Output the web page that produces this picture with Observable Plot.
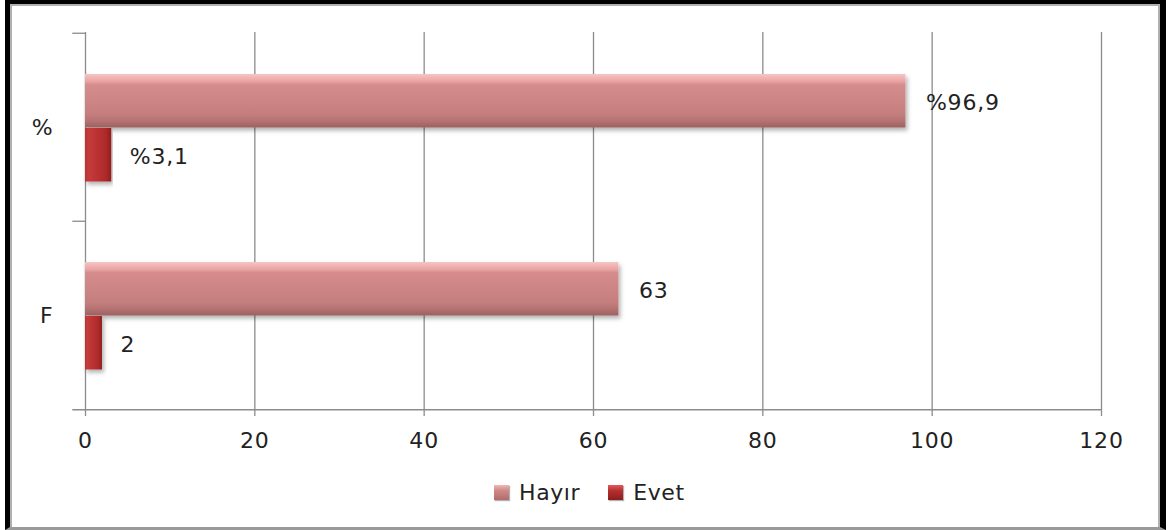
<!DOCTYPE html>
<html>
<head>
<meta charset="utf-8">
<script src="https://cdn.jsdelivr.net/npm/d3@7"></script>
<script src="https://cdn.jsdelivr.net/npm/@observablehq/plot@0.6"></script>
<style>
  html, body { margin: 0; padding: 0; background: #fff; }
  body { width: 1170px; height: 530px; position: relative; overflow: hidden; font-family: "DejaVu Sans", sans-serif; }
  #frame { position: absolute; left: 5px; top: 0; width: 1161px; height: 530px; box-sizing: border-box;
           border-top: 4px solid #000; border-left: 5px solid #000; border-right: 6px solid #000; border-bottom: 3px solid #9a9a9a;
           box-shadow: inset 2px 2px 0 #b0b0b0, inset -2px 0 0 #b0b0b0; pointer-events: none; }
  #chart { position: absolute; left: 0; top: 0; }
  #chart svg text { letter-spacing: 0.8px; }
  #legend { position: absolute; top: 480px; left: 494px; display: flex; font-size: 22px; letter-spacing: 0.6px; color: #222; }
  .item { display: flex; align-items: center; }
  .item + .item { margin-left: 28px; }
  .sw { width: 15px; height: 15px; margin-right: 10px; box-shadow: 1px 1px 1px rgba(0,0,0,0.3); }
</style>
</head>
<body>
<div id="chart"></div>
<div id="legend"></div>
<div id="frame"></div>
<script>
const categories = ["%", "F"];
const seriesNames = ["Hayır", "Evet"];
const hayirValues = [96.9, 63];
const evetValues = [3.1, 2];
const hayirLabels = ["%96,9", "63"];
const evetLabels = ["%3,1", "2"];
const xTicks = [0, 20, 40, 60, 80, 100, 120];

const hayir = categories.map((c, i) => ({cat: c, value: hayirValues[i], label: hayirLabels[i]}));
const evet = categories.map((c, i) => ({cat: c, value: evetValues[i], label: evetLabels[i]}));

const gridColor = "#8c8c8c";

const chart = Plot.plot({
  width: 1170,
  height: 460,
  marginLeft: 85,
  marginRight: 69,
  marginTop: 32,
  marginBottom: 51,
  style: {fontFamily: "DejaVu Sans, sans-serif", fontSize: "22px", color: "#222", background: "transparent", overflow: "visible"},
  x: {domain: [0, 120], ticks: xTicks, label: null},
  y: {domain: categories, padding: 0, label: null},
  marks: [
    Plot.gridX(xTicks, {stroke: gridColor, strokeOpacity: 1, strokeWidth: 1.3}),
    Plot.axisX(xTicks, {tickSize: 7, tickPadding: 16, stroke: gridColor, fill: "#222", tickFormat: d => String(d), strokeWidth: 1.3, label: null}),
    Plot.axisY({tickSize: 0, tickPadding: 32, fill: "#222", label: null}),
    Plot.ruleY(categories, {y: d => d, x1: -1.5, x2: 0, dy: -94.25, stroke: gridColor, strokeWidth: 1.3}),
    Plot.ruleY([categories[categories.length - 1]], {y: d => d, x1: -1.5, x2: 120, dy: 94.25, stroke: gridColor, strokeWidth: 1.3}),
    Plot.barX(hayir, {x: "value", y: "cat", fill: "url(#gradHayir)", insetTop: 41, insetBottom: 93.5}),
    Plot.barX(evet, {x: "value", y: "cat", fill: "url(#gradEvet)", insetTop: 95, insetBottom: 39.5}),
    Plot.text(hayir, {x: "value", y: "cat", text: "label", textAnchor: "start", dx: 20, dy: -25, fill: "#222"}),
    Plot.text(evet, {x: "value", y: "cat", text: "label", textAnchor: "start", dx: 18, dy: 29, fill: "#222"})
  ]
});

// gradients / shadow for the bevelled bar look
const ns = "http://www.w3.org/2000/svg";
const defs = document.createElementNS(ns, "defs");
defs.innerHTML = `
  <linearGradient id="gradHayir" x1="0" y1="0" x2="0" y2="1">
    <stop offset="0" stop-color="#f7c4c4"/>
    <stop offset="0.14" stop-color="#e9a3a3"/>
    <stop offset="0.2" stop-color="#d68c8c"/>
    <stop offset="0.75" stop-color="#c57e7e"/>
    <stop offset="0.88" stop-color="#b57272"/>
    <stop offset="1" stop-color="#9c6060"/>
  </linearGradient>
  <linearGradient id="gradEvet" x1="0" y1="0" x2="1" y2="0">
    <stop offset="0" stop-color="#b83333"/>
    <stop offset="0.15" stop-color="#c63a3a"/>
    <stop offset="0.8" stop-color="#ad2a2a"/>
    <stop offset="1" stop-color="#8e1e1e"/>
  </linearGradient>
  <filter id="shadow" x="-5%" y="-10%" width="110%" height="130%">
    <feDropShadow dx="2" dy="3" stdDeviation="2" flood-color="#000" flood-opacity="0.3"/>
  </filter>`;
chart.insertBefore(defs, chart.firstChild);
chart.querySelectorAll("g[aria-label='bar']").forEach(g => g.setAttribute("filter", "url(#shadow)"));
document.getElementById("chart").appendChild(chart);

// legend
const legendGrad = {
  "Hayır": "linear-gradient(#f2b6b6 0%, #d08a8a 35%, #b06c6c 100%)",
  "Evet": "linear-gradient(#e25a5a 0%, #b52e2e 40%, #8c1e1e 100%)"
};
const legend = document.getElementById("legend");
seriesNames.forEach(name => {
  const item = document.createElement("div");
  item.className = "item";
  const sw = document.createElement("div");
  sw.className = "sw";
  sw.style.background = legendGrad[name];
  const label = document.createElement("span");
  label.textContent = name;
  item.appendChild(sw);
  item.appendChild(label);
  legend.appendChild(item);
});
</script>
</body>
</html>
